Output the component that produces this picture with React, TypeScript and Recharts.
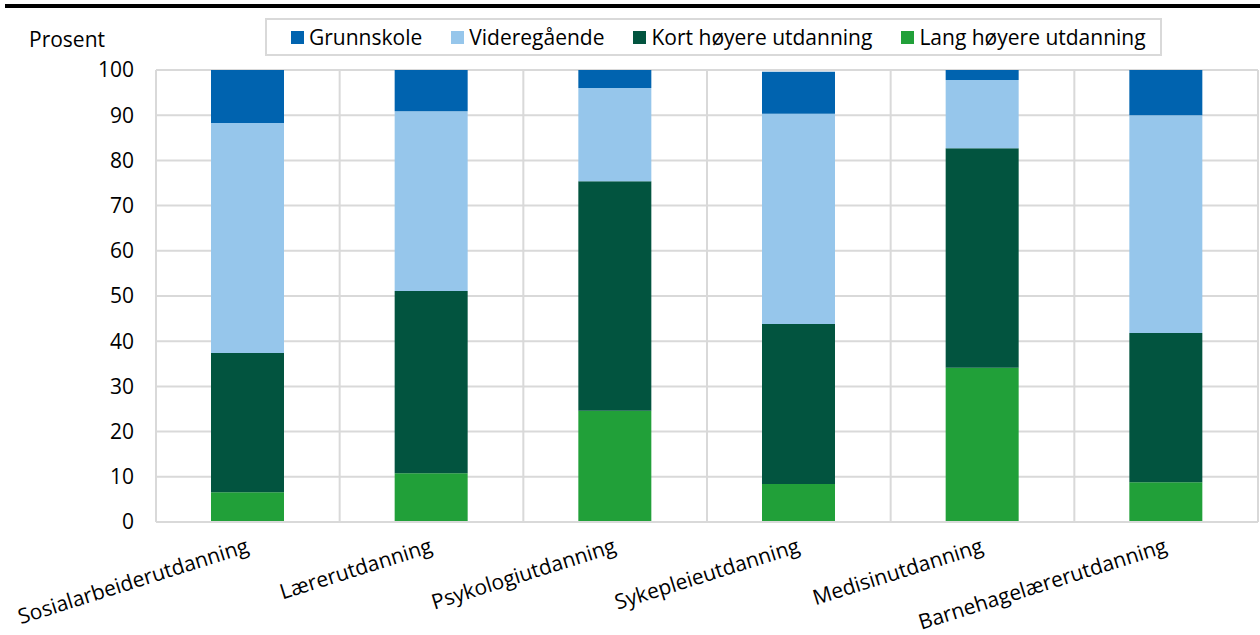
import React from "react"
import { Bar, BarChart, CartesianGrid, XAxis, YAxis } from "recharts"

const categories = [
  "Sosialarbeiderutdanning",
  "Lærerutdanning",
  "Psykologiutdanning",
  "Sykepleieutdanning",
  "Medisinutdanning",
  "Barnehagelærerutdanning",
]

const lang = [6.6, 10.8, 24.6, 8.4, 34.1, 8.8]
const kort = [30.8, 40.3, 50.8, 35.4, 48.6, 33.0]
const videregaende = [50.9, 39.8, 20.6, 46.5, 15.1, 48.2]
const grunnskole = [11.7, 9.1, 4.0, 9.3, 2.2, 10.0]

const yTicks = [0, 10, 20, 30, 40, 50, 60, 70, 80, 90, 100]

const series = [
  { key: "grunnskole", name: "Grunnskole", color: "#0063af" },
  { key: "videregaende", name: "Videregående", color: "#96c6eb" },
  { key: "kort", name: "Kort høyere utdanning", color: "#02543f" },
  { key: "lang", name: "Lang høyere utdanning", color: "#21a039" },
]

const data = categories.map((name, i) => ({
  name,
  lang: lang[i],
  kort: kort[i],
  videregaende: videregaende[i],
  grunnskole: grunnskole[i],
}))

const font = "'Open Sans', 'Noto Sans', sans-serif"

function AngledTick(props: any) {
  const { x, y, payload } = props
  const tx = x + 2
  const ty = y + 22
  return (
    <text
      x={tx}
      y={ty}
      textAnchor="end"
      fontSize={21}
      fontFamily={font}
      fill="#000"
      transform={`rotate(-17.5, ${tx}, ${ty})`}
    >
      {payload.value}
    </text>
  )
}

export default function App() {
  // stack bottom-up: lang, kort, videregående, grunnskole
  const stackOrder = [...series].reverse()
  return (
    <div style={{ position: "relative", width: 1260, height: 635, fontFamily: font, background: "#fff" }}>
      <style>{`body { margin: 0; }`}</style>
      <div style={{ position: "absolute", top: 4, left: 5, width: 1255, height: 4, background: "#000" }} />
      <div style={{ position: "absolute", left: 29, top: 25, fontSize: 21, color: "#000", lineHeight: "28px" }}>
        Prosent
      </div>
      <div
        style={{
          position: "absolute",
          left: 265,
          top: 18,
          width: 869,
          height: 34,
          border: "2px solid #d9d9d9",
          display: "flex",
          alignItems: "center",
          paddingLeft: 24,
          boxSizing: "content-box",
          fontSize: 21,
          color: "#000",
          whiteSpace: "nowrap",
        }}
      >
        {series.map((s, i) => (
          <div key={s.key} style={{ display: "flex", alignItems: "center", marginRight: i < 3 ? 29 : 0 }}>
            <span style={{ width: 13, height: 13, background: s.color, display: "inline-block", marginRight: 5 }} />
            <span>{s.name}</span>
          </div>
        ))}
      </div>
      <div style={{ position: "absolute", left: 0, top: 0 }}>
        <BarChart
          width={1260}
          height={635}
          data={data}
          margin={{ top: 70, right: 2, left: 1, bottom: 0 }}
          barSize={73}
        >
          <CartesianGrid
            stroke="#d9d9d9"
            strokeWidth={2}
            verticalCoordinatesGenerator={({ offset }: any) =>
              categories.map((_, i) => offset.left + ((i + 1) * offset.width) / categories.length)
            }
          />
          <XAxis
            dataKey="name"
            height={113}
            interval={0}
            axisLine={{ stroke: "#d9d9d9", strokeWidth: 2 }}
            tickLine={false}
            tick={<AngledTick />}
          />
          <YAxis
            width={155}
            domain={[0, 100]}
            ticks={yTicks}
            interval={0}
            axisLine={{ stroke: "#d9d9d9", strokeWidth: 2 }}
            tickLine={false}
            tickSize={0}
            tickMargin={22}
            tick={{ fill: "#000", fontSize: 21, fontFamily: font }}
          />
          {stackOrder.map((s) => (
            <Bar key={s.key} dataKey={s.key} name={s.name} stackId="a" fill={s.color} isAnimationActive={false} />
          ))}
        </BarChart>
      </div>
    </div>
  )
}
